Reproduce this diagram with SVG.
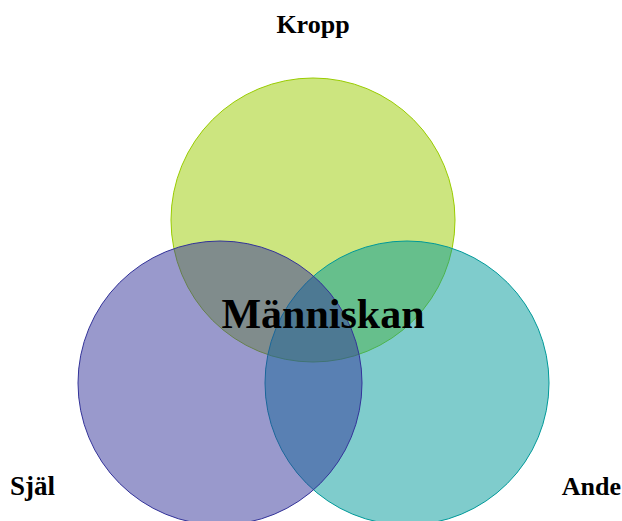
<svg xmlns="http://www.w3.org/2000/svg" width="622" height="521" viewBox="0 0 622 521">
<style>
.c{fill-opacity:0.5;stroke-width:1}
.t{font-family:"Liberation Serif","Times New Roman",serif;font-weight:bold;fill:#000}
</style>
<rect width="622" height="521" fill="#fff"/>
<g id="kropp"><circle class="c" cx="313" cy="220" r="142" fill="#99CC00" stroke="#99CC00"/></g>
<g id="ande"><circle class="c" cx="407" cy="383" r="142" fill="#009999" stroke="#009999"/></g>
<g id="sjal"><circle class="c" cx="220" cy="383" r="142" fill="#333399" stroke="#333399"/></g>
<g id="connectors"></g>
<g id="labels">
<text class="t" x="313" y="33" font-size="26" text-anchor="middle">Kropp</text>
<text class="t" x="10" y="495" font-size="27">Själ</text>
<text class="t" x="621" y="495" font-size="26" text-anchor="end">Ande</text>
<text class="t" x="323" y="328" font-size="42" text-anchor="middle">Människan</text>
</g>
</svg>
